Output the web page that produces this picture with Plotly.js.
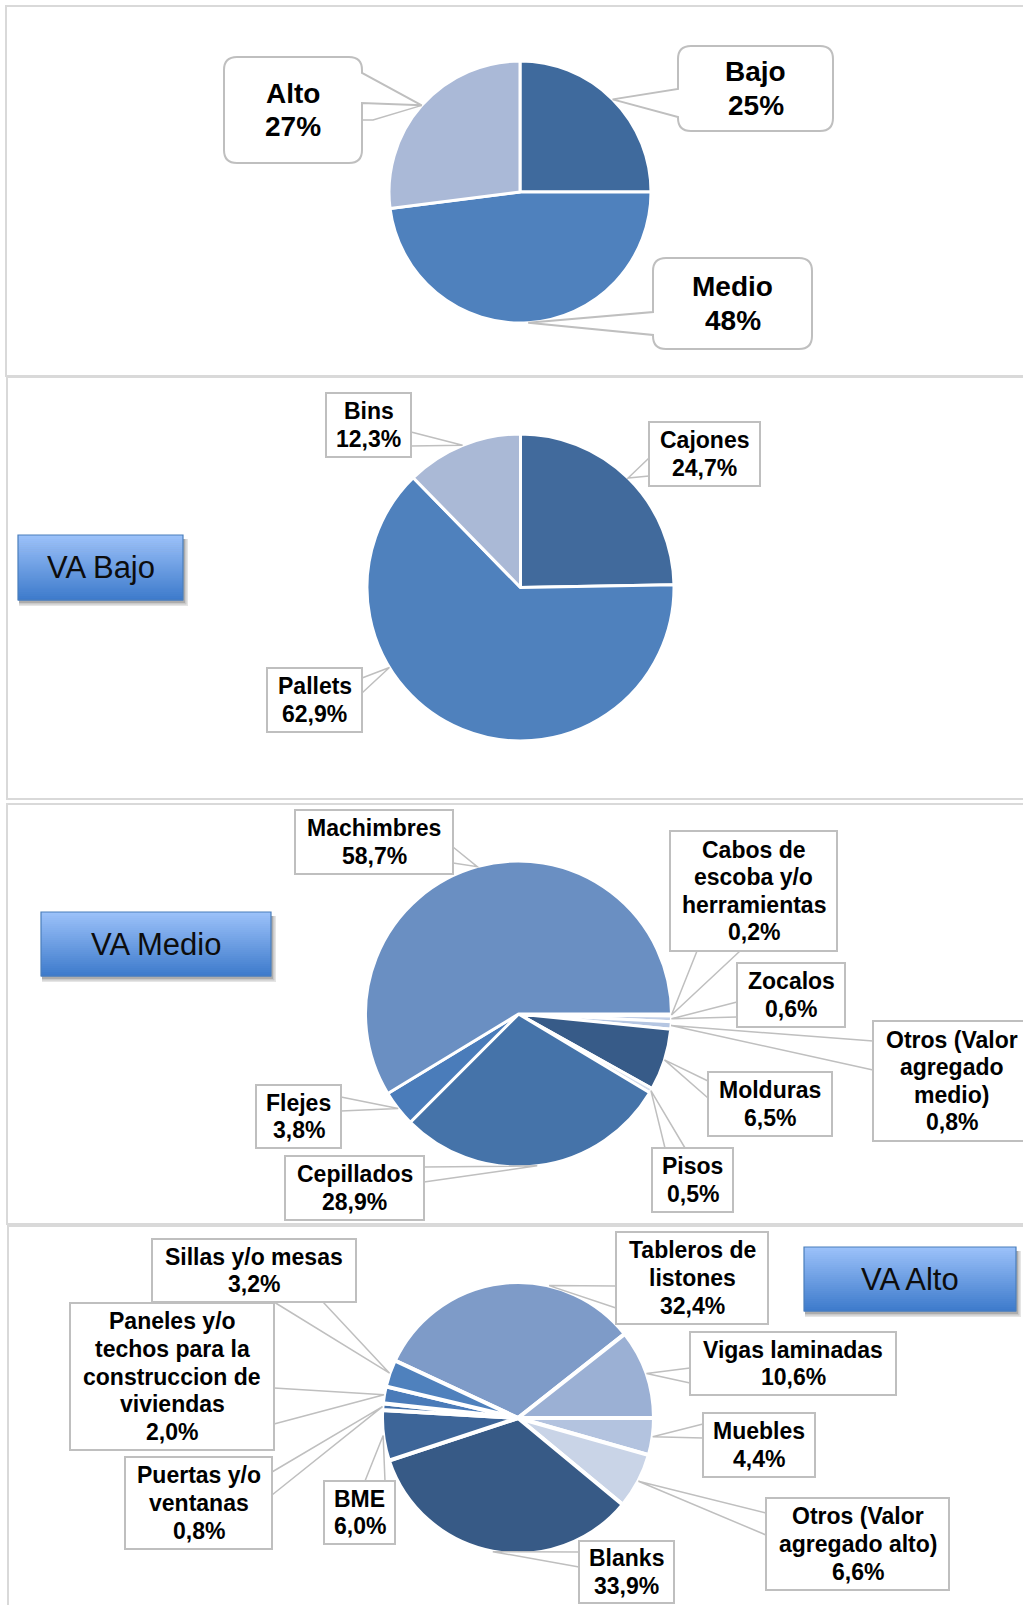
<!DOCTYPE html>
<html><head><meta charset="utf-8">
<script src="https://cdn.plot.ly/plotly-3.0.1.min.js"></script>
<style>html,body{margin:0;padding:0;background:#fff}#chart{width:1023px;height:1605px}</style>
</head><body><div id="chart"></div>
<script>
// ---------------- data ----------------
const names1 = ["Bajo", "Medio", "Alto"];
const values1 = [25, 48, 27];

const names2 = ["Cajones", "Pallets", "Bins"];
const values2 = [24.7, 62.9, 12.3];

const names3 = ["Cabos de\nescoba y/o\nherramientas", "Zocalos", "Otros (Valor\nagregado\nmedio)", "Molduras", "Pisos", "Cepillados", "Flejes", "Machimbres"];
const values3 = [0.2, 0.6, 0.8, 6.5, 0.5, 28.9, 3.8, 58.7];

const names4 = ["Tableros de\nlistones", "Vigas laminadas", "Muebles", "Otros (Valor\nagregado alto)", "Blanks", "BME", "Puertas y/o\nventanas", "Paneles y/o\ntechos para la\nconstruccion de\nviviendas", "Sillas y/o mesas"];
const values4 = [32.4, 10.6, 4.4, 6.6, 33.9, 6.0, 0.8, 2.0, 3.2];

const panelTitles = ["VA Bajo", "VA Medio", "VA Alto"];

// ---------------- layout helpers ----------------
const W = 1023, H = 1605;
const X = x => x / W, Y = y => 1 - y / H;
const P = (x, y) => X(x).toFixed(5) + ',' + Y(y).toFixed(5);
const GRAY = '#BFBFBF';
const FONT = 'Liberation Sans, Arial, Helvetica, sans-serif';

const pies = [
  { names: names1, values: values1, dec: 0, cx: 520, cy: 192, r: 131, rot: 0, lw: 3,
    colors: ["#3F6A9D", "#4F81BD", "#AAB9D7"], font: 28, lh: 34, rounded: true,
    boxes: [
      { box: [678, 46, 833, 131], side: 'left', base: [89, 117] },
      { box: [653, 258, 812, 349], side: 'left', base: [312, 335] },
      { box: [224, 57, 362, 163], side: 'right', base: [73, 103], extra: [[362, 120], [373, 120]] }
    ] },
  { names: names2, values: values2, dec: 1, cx: 520.5, cy: 587.5, r: 153.5, rot: 0, lw: 3,
    colors: ["#416A9C", "#4F81BD", "#AAB9D6"], font: 23, lh: 27.6,
    boxes: [
      { box: [649, 422, 760, 486], base: [[649, 458], [649, 476]] },
      { box: [267, 668, 362, 732], base: [[362, 678], [362, 693]], frac: 0.66 },
      { box: [326, 393, 411, 457], base: [[411, 432], [411, 446]] }
    ] },
  { names: names3, values: values3, dec: 1, cx: 518.5, cy: 1014, r: 153, rot: 90, lw: 3,
    colors: ["#A9BCDC", "#C3D0E7", "#B5C6E2", "#375B88", "#D3DCEC", "#4573A9", "#4A7CBA", "#6A8FC2"], font: 23, lh: 27.6,
    boxes: [
      { box: [670, 831, 837, 951], base: [[697, 951], [740, 951]] },
      { box: [737, 963, 845, 1027], base: [[737, 1002], [737, 1017]] },
      { box: [873, 1021, 1035, 1141], base: [[873, 1041], [873, 1070]] },
      { box: [708, 1072, 832, 1136], base: [[708, 1081], [708, 1098]] },
      { box: [652, 1148, 733, 1212], base: [[665, 1148], [685, 1148]] },
      { box: [285, 1156, 424, 1220], base: [[424, 1167], [424, 1182]] },
      { box: [256, 1085, 341, 1148], base: [[341, 1097], [341, 1111]] },
      { box: [295, 810, 453, 874], base: [[453, 847], [453, 863]] }
    ] },
  { names: names4, values: values4, dec: 1, cx: 518, cy: 1418, r: 136, rot: -65, lw: 4,
    colors: ["#7E9BC8", "#9BB0D4", "#B3C3DF", "#C9D4E7", "#375A86", "#3D6598", "#4471AA", "#4A7BB9", "#4F81BD"], font: 23, lh: 27.6,
    boxes: [
      { box: [616, 1232, 768, 1324], base: [[616, 1286], [616, 1308]], frac: 0.67 },
      { box: [690, 1332, 896, 1395], base: [[690, 1368], [690, 1383]] },
      { box: [703, 1413, 815, 1477], base: [[703, 1424], [703, 1438]] },
      { box: [766, 1498, 949, 1590], base: [[766, 1513], [766, 1535]] },
      { box: [579, 1541, 674, 1603], base: [[579, 1552], [579, 1567]] },
      { box: [324, 1481, 395, 1544], base: [[365, 1481], [385, 1481]] },
      { box: [125, 1457, 272, 1549], base: [[272, 1472], [272, 1495]] },
      { box: [70, 1303, 274, 1450], base: [[274, 1388], [274, 1424]] },
      { box: [152, 1239, 356, 1302], base: [[274, 1302], [323, 1302]] }
    ] }
];

const panels = [[6, 6, 1030, 376], [7, 377, 1030, 799], [7, 804, 1030, 1224], [8, 1226, 1030, 1620]];
const buttons = [[18, 535, 183, 600], [41, 912, 271, 976], [804, 1247, 1016, 1311]];

// ---------------- build ----------------
const shapes = [], annotations = [], traces = [];

panels.forEach(p => shapes.push({ type: 'rect', xref: 'paper', yref: 'paper', x0: X(p[0]), x1: X(p[2]), y0: Y(p[1]), y1: Y(p[3]),
  line: { color: '#D9D9D9', width: 2 }, fillcolor: 'rgba(0,0,0,0)', layer: 'below' }));

function tipPoints(pc) {
  const tot = pc.values.reduce((a, b) => a + b, 0);
  let cum = 0;
  return pc.values.map((v, i) => {
    const f = (pc.boxes[i] && pc.boxes[i].frac != null) ? pc.boxes[i].frac : 0.5;
    const a = (pc.rot + 360 * (cum + v * f) / tot) * Math.PI / 180;
    cum += v;
    return [pc.cx + pc.r * Math.sin(a), pc.cy - pc.r * Math.cos(a)];
  });
}

function roundCallout(b, side, base, tip, rr) {
  const [x0, y0, x1, y1] = b;
  let d = `M${P(x0 + rr, y0)} L${P(x1 - rr, y0)} Q${P(x1, y0)} ${P(x1, y0 + rr)}`;
  if (side === 'right') d += ` L${P(x1, base[0])} L${P(tip[0], tip[1])} L${P(x1, base[1])}`;
  d += ` L${P(x1, y1 - rr)} Q${P(x1, y1)} ${P(x1 - rr, y1)} L${P(x0 + rr, y1)} Q${P(x0, y1)} ${P(x0, y1 - rr)}`;
  if (side === 'left') d += ` L${P(x0, base[1])} L${P(tip[0], tip[1])} L${P(x0, base[0])}`;
  d += ` L${P(x0, y0 + rr)} Q${P(x0, y0)} ${P(x0 + rr, y0)} Z`;
  return d;
}

function fmt(v, dec) { return dec === 0 ? Math.round(v) + '%' : v.toFixed(dec).replace('.', ',') + '%'; }

pies.forEach(pc => {
  traces.push({
    type: 'pie', labels: pc.names, values: pc.values, sort: false, direction: 'clockwise', rotation: pc.rot,
    textinfo: 'none', hoverinfo: 'skip', showlegend: false,
    marker: { colors: pc.colors, line: { color: '#ffffff', width: pc.lw } },
    domain: { x: [X(pc.cx - pc.r), X(pc.cx + pc.r)], y: [Y(pc.cy + pc.r), Y(pc.cy - pc.r)] }
  });
  const tips = tipPoints(pc);
  pc.boxes.forEach((bx, i) => {
    const t = tips[i];
    const [x0, y0, x1, y1] = bx.box;
    if (pc.rounded) {
      shapes.push({ type: 'path', xref: 'paper', yref: 'paper', path: roundCallout(bx.box, bx.side, bx.base, t, 13),
        fillcolor: '#ffffff', line: { color: GRAY, width: 2 }, layer: 'above' });
      if (bx.extra) {
        const pts = bx.extra.concat([t]);
        shapes.push({ type: 'path', xref: 'paper', yref: 'paper', path: 'M' + pts.map(p => P(p[0], p[1])).join(' L'),
          line: { color: GRAY, width: 1.5 }, layer: 'above' });
      }
    } else {
      shapes.push({ type: 'path', xref: 'paper', yref: 'paper',
        path: `M${P(bx.base[0][0], bx.base[0][1])} L${P(t[0], t[1])} L${P(bx.base[1][0], bx.base[1][1])}`,
        line: { color: GRAY, width: 1.5 }, layer: 'above' });
      shapes.push({ type: 'rect', xref: 'paper', yref: 'paper', x0: X(x0), x1: X(x1), y0: Y(y1), y1: Y(y0),
        fillcolor: '#ffffff', line: { color: GRAY, width: 2 }, layer: 'above' });
    }
    const lines = pc.names[i].split('\n').concat([fmt(pc.values[i], pc.dec)]);
    const cx = (x0 + Math.min(x1, 1030)) / 2, cy = (y0 + y1) / 2;
    lines.forEach((ln, k) => {
      annotations.push({ xref: 'paper', yref: 'paper', x: X(cx), y: Y(cy + (k - (lines.length - 1) / 2) * pc.lh),
        xanchor: 'center', yanchor: 'middle', showarrow: false, text: '<b>' + ln + '</b>',
        font: { family: FONT, size: pc.font, color: '#000000' } });
    });
  });
});

// gradient buttons
function mix(a, b, t) {
  const pa = [1, 3, 5].map(i => parseInt(a.substr(i, 2), 16)), pb = [1, 3, 5].map(i => parseInt(b.substr(i, 2), 16));
  return 'rgb(' + pa.map((v, i) => Math.round(v + (pb[i] - v) * t)).join(',') + ')';
}
buttons.forEach((b, i) => {
  const [x0, y0, x1, y1] = b;
  [[5, 0.10], [3.5, 0.12], [2, 0.14]].forEach(([o, a]) => shapes.push({ type: 'rect', xref: 'paper', yref: 'paper',
    x0: X(x0 + 1), x1: X(x1 + o), y0: Y(y1 + o + 1), y1: Y(y0 + 4), fillcolor: `rgba(0,0,0,${a})`, line: { width: 0 }, layer: 'above' }));
  const N = 32;
  for (let k = 0; k < N; k++) {
    const ya = y0 + (y1 - y0) * k / N, yb = y0 + (y1 - y0) * (k + 1) / N + 0.6;
    shapes.push({ type: 'rect', xref: 'paper', yref: 'paper', x0: X(x0), x1: X(x1), y0: Y(yb), y1: Y(ya),
      fillcolor: mix('#9CC2FA', '#3C7ACB', (k + 0.5) / N), line: { width: 0 }, layer: 'above' });
  }
  shapes.push({ type: 'rect', xref: 'paper', yref: 'paper', x0: X(x0), x1: X(x1), y0: Y(y1), y1: Y(y0),
    fillcolor: 'rgba(0,0,0,0)', line: { color: '#4A7EBB', width: 1.2 }, layer: 'above' });
  annotations.push({ xref: 'paper', yref: 'paper', x: X((x0 + x1) / 2), y: Y((y0 + y1) / 2), xanchor: 'center', yanchor: 'middle',
    showarrow: false, text: panelTitles[i], font: { family: FONT, size: 31, color: '#0D0D0D' } });
});

Plotly.newPlot('chart', traces, {
  width: W, height: H, margin: { l: 0, r: 0, t: 0, b: 0 }, paper_bgcolor: '#ffffff', plot_bgcolor: '#ffffff',
  showlegend: false, shapes: shapes, annotations: annotations
}, { displayModeBar: false, staticPlot: true });
</script></body></html>
